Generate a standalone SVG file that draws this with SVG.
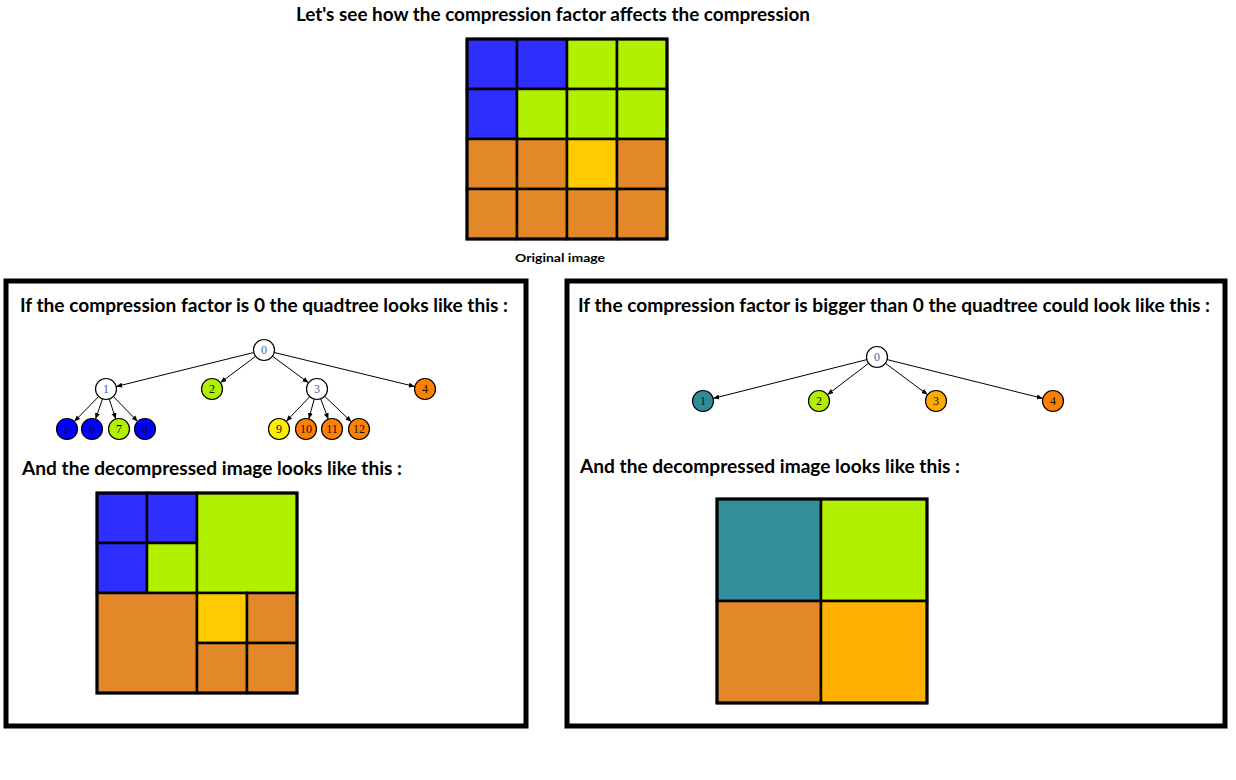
<svg xmlns="http://www.w3.org/2000/svg" width="1236" height="780" viewBox="0 0 1236 780">
<style>
.h{font-family:Lato,"Liberation Sans",sans-serif;font-weight:bold;font-size:18px;fill:#000}
.s{font-family:Lato,"Liberation Sans",sans-serif;font-weight:bold;font-size:12px;fill:#000}
.panel{fill:#fff;stroke:#000;stroke-width:5}
.cell{stroke:#000;stroke-width:2.5}
.bl{fill:#2e2eff}.gr{fill:#b0f000}.or{fill:#e38828}.ye{fill:#ffcb00}.te{fill:#338e9b}.oy{fill:#ffb000}
.n{stroke:#000;stroke-width:1.2}
.nt{font-family:"Liberation Serif",serif;font-size:12px;text-anchor:middle;fill:#111}
.nw{fill:#3a64b0}
.e{stroke:#000;stroke-width:1;fill:none;marker-end:url(#ah)}
</style>
<defs>
<marker id="ah" markerUnits="userSpaceOnUse" markerWidth="6" markerHeight="6" refX="6" refY="3" orient="auto">
<path d="M0,0.5 L6,3 L0,5.5 z" fill="#000"/>
</marker>
</defs>
<rect width="1236" height="780" fill="#fff"/>
<text class="h" x="296" y="21" textLength="514" lengthAdjust="spacingAndGlyphs">Let's see how the compression factor affects the compression</text>
<g id="original">
<rect class="cell bl" x="467" y="39" width="50" height="50"/>
<rect class="cell bl" x="517" y="39" width="50" height="50"/>
<rect class="cell gr" x="567" y="39" width="50" height="50"/>
<rect class="cell gr" x="617" y="39" width="50" height="50"/>
<rect class="cell bl" x="467" y="89" width="50" height="50"/>
<rect class="cell gr" x="517" y="89" width="50" height="50"/>
<rect class="cell gr" x="567" y="89" width="50" height="50"/>
<rect class="cell gr" x="617" y="89" width="50" height="50"/>
<rect class="cell or" x="467" y="139" width="50" height="50"/>
<rect class="cell or" x="517" y="139" width="50" height="50"/>
<rect class="cell ye" x="567" y="139" width="50" height="50"/>
<rect class="cell or" x="617" y="139" width="50" height="50"/>
<rect class="cell or" x="467" y="189" width="50" height="50"/>
<rect class="cell or" x="517" y="189" width="50" height="50"/>
<rect class="cell or" x="567" y="189" width="50" height="50"/>
<rect class="cell or" x="617" y="189" width="50" height="50"/>
<rect x="467" y="39" width="200" height="200" fill="none" stroke="#000" stroke-width="3"/>
</g>
<text class="s" x="515" y="262" textLength="90" lengthAdjust="spacingAndGlyphs">Original image</text>

<g id="left-panel">
<rect class="panel" x="6" y="281" width="520" height="445"/>
<text class="h" x="20" y="312" textLength="488" lengthAdjust="spacingAndGlyphs">If the compression factor is 0 the quadtree looks like this :</text>
<text class="h" x="22" y="475" textLength="380" lengthAdjust="spacingAndGlyphs">And the decompressed image looks like this :</text>
</g>
<g id="right-panel">
<rect class="panel" x="567" y="281" width="658" height="445"/>
<text class="h" x="578" y="312" textLength="632" lengthAdjust="spacingAndGlyphs">If the compression factor is bigger than 0 the quadtree could look like this :</text>
<text class="h" x="580" y="473" textLength="380" lengthAdjust="spacingAndGlyphs">And the decompressed image looks like this :</text>
</g>

<g id="connectors">
<line class="e" x1="253.8" y1="352.5" x2="116.2" y2="386.5"/>
<line class="e" x1="255.6" y1="356.3" x2="220.4" y2="382.7"/>
<line class="e" x1="272.5" y1="356.2" x2="308.5" y2="382.8"/>
<line class="e" x1="274.2" y1="352.5" x2="414.8" y2="386.5"/>
<line class="e" x1="98.7" y1="396.5" x2="74.3" y2="421.5"/>
<line class="e" x1="102.5" y1="398.9" x2="95.5" y2="419.1"/>
<line class="e" x1="109.2" y1="399" x2="115.8" y2="419"/>
<line class="e" x1="113.3" y1="396.5" x2="137.7" y2="421.5"/>
<line class="e" x1="309.8" y1="396.6" x2="286.2" y2="421.4"/>
<line class="e" x1="314.2" y1="399.1" x2="308.8" y2="418.9"/>
<line class="e" x1="320.7" y1="398.8" x2="328.3" y2="419.2"/>
<line class="e" x1="324.6" y1="396.2" x2="351.4" y2="421.8"/>
<line class="e" x1="866.8" y1="359.6" x2="713.2" y2="398.4"/>
<line class="e" x1="868.6" y1="363.3" x2="827.4" y2="394.7"/>
<line class="e" x1="885.4" y1="363.3" x2="927.6" y2="394.7"/>
<line class="e" x1="887.2" y1="359.6" x2="1042.8" y2="398.4"/>
</g>

<g id="lt-0"><circle class="n" cx="264" cy="350" r="10.5" fill="#fff"/><text class="nt nw" x="264" y="354">0</text></g>
<g id="lt-1"><circle class="n" cx="106" cy="389" r="10.5" fill="#fff"/><text class="nt nw" x="106" y="393">1</text></g>
<g id="lt-2"><circle class="n" cx="212" cy="389" r="10.5" fill="#b2f000"/><text class="nt" x="212" y="393">2</text></g>
<g id="lt-3"><circle class="n" cx="317" cy="389" r="10.5" fill="#fff"/><text class="nt nw" x="317" y="393">3</text></g>
<g id="lt-4"><circle class="n" cx="425" cy="389" r="10.5" fill="#ff7f00"/><text class="nt" x="425" y="393">4</text></g>
<g id="lt-5"><circle class="n" cx="67" cy="429" r="10.5" fill="#0000ff"/><text class="nt" x="67" y="433">5</text></g>
<g id="lt-6"><circle class="n" cx="92" cy="429" r="10.5" fill="#0000ff"/><text class="nt" x="92" y="433">6</text></g>
<g id="lt-7"><circle class="n" cx="119" cy="429" r="10.5" fill="#b2f000"/><text class="nt" x="119" y="433">7</text></g>
<g id="lt-8"><circle class="n" cx="145" cy="429" r="10.5" fill="#0000ff"/><text class="nt" x="145" y="433">8</text></g>
<g id="lt-9"><circle class="n" cx="279" cy="429" r="10.5" fill="#ffee00"/><text class="nt" x="279" y="433">9</text></g>
<g id="lt-10"><circle class="n" cx="306" cy="429" r="10.5" fill="#ff7f00"/><text class="nt" x="306" y="433">10</text></g>
<g id="lt-11"><circle class="n" cx="332" cy="429" r="10.5" fill="#ff7f00"/><text class="nt" x="332" y="433">11</text></g>
<g id="lt-12"><circle class="n" cx="359" cy="429" r="10.5" fill="#ff7f00"/><text class="nt" x="359" y="433">12</text></g>

<g id="rt-0"><circle class="n" cx="877" cy="357" r="10.5" fill="#fff"/><text class="nt nw" x="877" y="361">0</text></g>
<g id="rt-1"><circle class="n" cx="703" cy="401" r="10.5" fill="#2f8c99"/><text class="nt" x="703" y="405">1</text></g>
<g id="rt-2"><circle class="n" cx="819" cy="401" r="10.5" fill="#b2f000"/><text class="nt" x="819" y="405">2</text></g>
<g id="rt-3"><circle class="n" cx="936" cy="401" r="10.5" fill="#ffaa00"/><text class="nt" x="936" y="405">3</text></g>
<g id="rt-4"><circle class="n" cx="1053" cy="401" r="10.5" fill="#ff7f00"/><text class="nt" x="1053" y="405">4</text></g>

<g id="left-image">
<rect class="cell bl" x="97" y="493" width="50" height="50"/>
<rect class="cell bl" x="147" y="493" width="50" height="50"/>
<rect class="cell bl" x="97" y="543" width="50" height="50"/>
<rect class="cell gr" x="147" y="543" width="50" height="50"/>
<rect class="cell gr" x="197" y="493" width="100" height="100"/>
<rect class="cell or" x="97" y="593" width="100" height="100"/>
<rect class="cell ye" x="197" y="593" width="50" height="50"/>
<rect class="cell or" x="247" y="593" width="50" height="50"/>
<rect class="cell or" x="197" y="643" width="50" height="50"/>
<rect class="cell or" x="247" y="643" width="50" height="50"/>
<rect x="97" y="493" width="200" height="200" fill="none" stroke="#000" stroke-width="3"/>
</g>
<g id="right-image">
<rect class="cell te" x="717" y="499" width="104" height="102"/>
<rect class="cell gr" x="821" y="499" width="106" height="102"/>
<rect class="cell or" x="717" y="601" width="104" height="102"/>
<rect class="cell oy" x="821" y="601" width="106" height="102"/>
<rect x="717" y="499" width="210" height="204" fill="none" stroke="#000" stroke-width="3"/>
</g>
</svg>
